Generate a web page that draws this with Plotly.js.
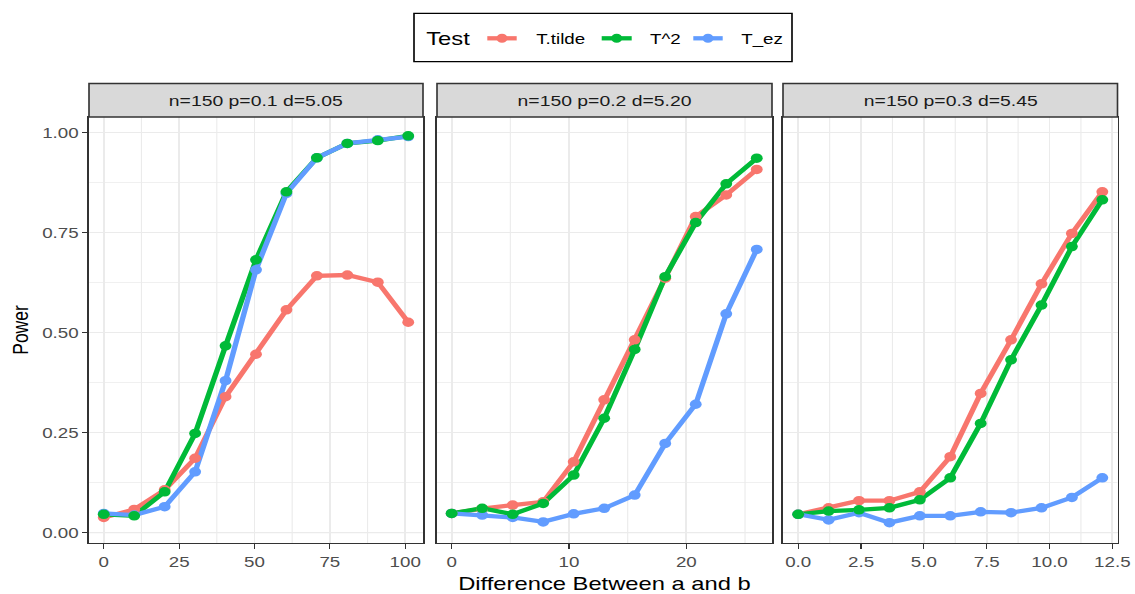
<!DOCTYPE html>
<html>
<head>
<meta charset="utf-8">
<script src="https://cdn.plot.ly/plotly-3.0.1.min.js"></script>
<style>
html,body{margin:0;padding:0;overflow:hidden;background:#fff;}
#wrap{width:1135px;height:594px;overflow:hidden;}
#chart{width:908px;height:594px;transform:scaleX(1.25);transform-origin:0 0;}
</style>
</head>
<body>
<div id="wrap"><div id="chart"></div></div>
<script>
// ---- data ----
const seriesNames = ["T.tilde", "T^2", "T_ez"];
const seriesColors = ["#F8766D", "#00BA38", "#619CFF"];
const panelTitles = ["n=150 p=0.1 d=5.05", "n=150 p=0.2 d=5.20", "n=150 p=0.3 d=5.45"];

const x1 = [0, 10.1, 20.2, 30.3, 40.4, 50.5, 60.6, 70.7, 80.8, 90.9, 101];
const x2 = [0, 2.6, 5.2, 7.8, 10.4, 13, 15.6, 18.2, 20.8, 23.4, 26];
const x3 = [0, 1.21, 2.42, 3.63, 4.84, 6.05, 7.26, 8.47, 9.68, 10.89, 12.1];

const tilde1 = [0.038, 0.058, 0.107, 0.186, 0.34, 0.446, 0.557, 0.642, 0.644, 0.626, 0.526];
const sq1    = [0.046, 0.042, 0.102, 0.248, 0.467, 0.682, 0.852, 0.937, 0.973, 0.98, 0.992];
const ez1    = [0.048, 0.044, 0.065, 0.152, 0.38, 0.657, 0.848, 0.937, 0.973, 0.982, 0.99];

const tilde2 = [0.048, 0.06, 0.069, 0.077, 0.177, 0.332, 0.482, 0.636, 0.79, 0.844, 0.908];
const sq2    = [0.048, 0.061, 0.046, 0.073, 0.144, 0.286, 0.458, 0.64, 0.775, 0.872, 0.936];
const ez2    = [0.048, 0.044, 0.038, 0.027, 0.047, 0.061, 0.094, 0.223, 0.321, 0.547, 0.708];

const tilde3 = [0.046, 0.062, 0.08, 0.08, 0.102, 0.19, 0.348, 0.482, 0.622, 0.748, 0.852];
const sq3    = [0.046, 0.054, 0.057, 0.062, 0.082, 0.137, 0.273, 0.432, 0.569, 0.715, 0.832];
const ez3    = [0.046, 0.032, 0.05, 0.025, 0.042, 0.042, 0.052, 0.05, 0.062, 0.088, 0.137];

const xTitle = "Difference Between a and b";
const yTitle = "Power";
const legendTitle = "Test";

// ---- geometry helpers ----
const S = 1.25, W = 908, H = 594, L = 71, R = 14, T = 117, B = 51;
const PW = W - L - R, PH = H - T - B;
function dx(a){ return (a / S - L) / PW; }
function dy(a){ return (H - B - a) / PH; }
function clamp(v){ return Math.max(0, Math.min(1, v)); }

const panels = [
  {x: x1, ys: [tilde1, sq1, ez1], dom: [clamp(dx(89)), clamp(dx(423))], range: [-4.9, 105.9], dtick: 25, minor: 12.5, fmt: "d"},
  {x: x2, ys: [tilde2, sq2, ez2], dom: [clamp(dx(437)), clamp(dx(772))], range: [-1.25, 27.3], dtick: 10, minor: 5, fmt: "d"},
  {x: x3, ys: [tilde3, sq3, ez3], dom: [clamp(dx(783)), clamp(dx(1118))], range: [-0.605, 12.705], dtick: 2.5, minor: 1.25, fmt: ".1f"}
];

const LW = 4.3, MS = 9.5;
const traces = [];
// lines first (ggplot group order), then points
panels.forEach((p, i) => {
  const sfx = i === 0 ? "" : String(i + 1);
  [0, 1, 2].forEach(k => {
    traces.push({
      type: "scatter", mode: "lines",
      x: p.x, y: p.ys[k], name: seriesNames[k],
      xaxis: "x" + sfx, yaxis: "y" + sfx,
      line: {color: seriesColors[k], width: LW},
      showlegend: false, hoverinfo: "skip"
    });
  });
});
panels.forEach((p, i) => {
  const sfx = i === 0 ? "" : String(i + 1);
  [0, 2, 1].forEach(k => {
    traces.push({
      type: "scatter", mode: "markers",
      x: p.x, y: p.ys[k], name: seriesNames[k],
      xaxis: "x" + sfx, yaxis: "y" + sfx,
      marker: {color: seriesColors[k], size: MS},
      showlegend: false, hoverinfo: "skip"
    });
  });
});

const gridC = "#EBEBEB";
const layout = {
  width: W, height: H,
  margin: {l: L, r: R, t: T, b: B, pad: 0},
  paper_bgcolor: "#fff", plot_bgcolor: "#fff",
  font: {family: "Liberation Sans, Arial, sans-serif", color: "#000"},
  showlegend: false,
  shapes: [], annotations: []
};

const yCommon = {
  range: [-0.0258, 1.039], tickvals: [0, 0.25, 0.5, 0.75, 1], tickformat: ".2f",
  showgrid: true, gridcolor: gridC, gridwidth: 1.4,
  minor: {dtick: 0.125, tick0: 0, showgrid: true, gridcolor: gridC, gridwidth: 0.9, ticklen: 0},
  showline: true, mirror: true, linecolor: "#333333", linewidth: 1.3,
  zeroline: false, fixedrange: true
};

panels.forEach((p, i) => {
  const sfx = i === 0 ? "" : String(i + 1);
  layout["xaxis" + sfx] = {
    domain: p.dom, range: p.range, anchor: "y" + sfx,
    dtick: p.dtick, tick0: 0, tickformat: p.fmt,
    showgrid: true, gridcolor: gridC, gridwidth: 1.4,
    minor: {dtick: p.minor, tick0: 0, showgrid: true, gridcolor: gridC, gridwidth: 0.9, ticklen: 0},
    showline: true, mirror: true, linecolor: "#333333", linewidth: 1.3,
    ticks: "outside", ticklen: 5, tickwidth: 1, tickcolor: "#333333",
    tickfont: {size: 15, color: "#4D4D4D"},
    zeroline: false, fixedrange: true
  };
  const ya = Object.assign({}, yCommon, {anchor: "x" + sfx, domain: [0, 1]});
  if (i === 0) {
    ya.ticks = "outside"; ya.ticklen = 4; ya.tickwidth = 1; ya.tickcolor = "#333333";
    ya.tickfont = {size: 15, color: "#4D4D4D"};
    ya.title = {text: yTitle, font: {size: 17.5, color: "#000"}, standoff: 6};
  } else {
    ya.showticklabels = false; ya.ticks = "";
  }
  layout["yaxis" + sfx] = ya;

  // facet strip
  layout.shapes.push({
    type: "rect", xref: "x" + sfx + " domain", yref: "paper",
    x0: 0, x1: 1, y0: 1, y1: dy(83.5),
    fillcolor: "#D9D9D9", line: {color: "#333333", width: 1.3}, layer: "above"
  });
  layout.annotations.push({
    text: panelTitles[i], xref: "x" + sfx + " domain", yref: "paper",
    x: 0.5, y: dy(100.5), xanchor: "center", yanchor: "middle", showarrow: false,
    font: {size: 15.5, color: "#1A1A1A"}
  });
});
layout.xaxis2.title = {text: xTitle, font: {size: 19, color: "#000"}, standoff: 8};

// ---- custom legend ----
layout.shapes.push({
  type: "rect", xref: "paper", yref: "paper",
  x0: dx(414), x1: dx(792), y0: dy(61.7), y1: dy(13.3),
  fillcolor: "#fff", line: {color: "#000", width: 1.3}
});
layout.annotations.push({
  text: legendTitle, xref: "paper", yref: "paper", x: dx(424), y: dy(38.5),
  xanchor: "left", yanchor: "middle", showarrow: false, font: {size: 19, color: "#000"}
});
const legSeg = [[487.3, 516.7, 533.3], [601.7, 631.7, 647.3], [693.3, 722.7, 738.3]];
legSeg.forEach((s, k) => {
  layout.shapes.push({
    type: "line", xref: "paper", yref: "paper",
    x0: dx(s[0]), x1: dx(s[1]), y0: dy(38.3), y1: dy(38.3),
    line: {color: seriesColors[k], width: LW}
  });
  const cx = (s[0] + s[1]) / 2;
  layout.shapes.push({
    type: "circle", xref: "paper", yref: "paper",
    x0: dx(cx - 5.5), x1: dx(cx + 5.5), y0: dy(42.8), y1: dy(33.8),
    fillcolor: seriesColors[k], line: {width: 0}
  });
  layout.annotations.push({
    text: seriesNames[k], xref: "paper", yref: "paper", x: dx(s[2]), y: dy(38.5),
    xanchor: "left", yanchor: "middle", showarrow: false, font: {size: 15, color: "#000"}
  });
});

Plotly.newPlot("chart", traces, layout, {staticPlot: true, displayModeBar: false});
</script>
</body>
</html>
